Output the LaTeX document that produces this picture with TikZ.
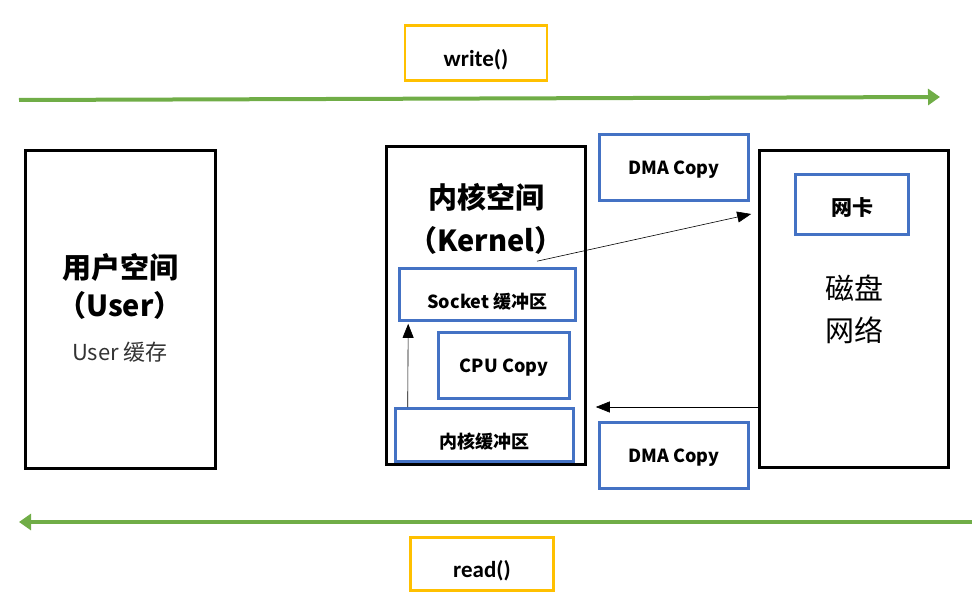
\documentclass[tikz,border=0pt]{standalone}
\usepackage{fontspec}
\setmainfont{Noto Sans CJK SC}
\newfontfamily\callfont{Carlito}
\usetikzlibrary{arrows.meta}

\definecolor{callorange}{HTML}{FFC000}
\definecolor{flowgreen}{HTML}{70AD47}
\definecolor{bufblue}{HTML}{4472C4}

\begin{document}
\begin{tikzpicture}[x=1pt,y=-1pt,
    space/.style={draw=black,line width=2.6pt,inner sep=0pt},
    buffer/.style={draw=bufblue,line width=2.6pt,inner sep=0pt,font=\fontsize{18}{21}\selectfont\bfseries},
    call/.style={draw=callorange,line width=2.6pt,inner sep=0pt,font=\callfont\fontsize{23}{26}\selectfont\bfseries},
    drop/.style={text height=#1,text depth=0pt},
    flow/.style={draw=flowgreen,line width=4pt,-{Triangle[length=12pt,width=16pt]}},
    copy/.style={draw=black,line width=0.6pt,-{Triangle[length=14pt,width=11pt]}}]

  \useasboundingbox (0,0) rectangle (972,610);

  % system calls
  \node[call, drop=27pt, minimum width=142pt, minimum height=55pt] (write) at (476,53)  {write()};
  \node[call, drop=27pt, minimum width=143pt, minimum height=53pt] (read)  at (482,564) {read()};

  \coordinate (w0) at (19,100);
  \coordinate (w1) at (940,97);
  \coordinate (r0) at (972,522);
  \coordinate (r1) at (19,522);
  \draw[flow] (w0) -- (w1);
  \draw[flow] (r0) -- (r1);

  % user space
  \node[space, minimum width=190pt, minimum height=318pt] (user) at (120.5,309.5) {};
  \node[align=center, font=\fontsize{29}{38}\selectfont\bfseries] (utitle) at (120,286)
       {用户空间\\（User）};
  \node[font=\fontsize{22}{26}\selectfont, text=black!80] (ucache) at (120,352) {User 缓存};

  % kernel space
  \node[space, minimum width=199pt, minimum height=318pt] (kern) at (486,305.5) {};
  \node[align=center, font=\fontsize{29}{43}\selectfont\bfseries] (ktitle) at (486,218.5)
       {内核空间\\（Kernel）};
  \node[buffer, drop=27.5pt, minimum width=176pt, minimum height=52pt] (sock) at (487.5,294.5) {Socket 缓冲区};
  \node[buffer, drop=14pt,   minimum width=131pt, minimum height=66pt] (cpu)  at (504,365.5)   {CPU Copy};
  \node[buffer, drop=26.5pt, minimum width=178pt, minimum height=53pt] (kbuf) at (484.5,435)   {内核缓冲区};

  % disk / network
  \node[space, minimum width=189pt, minimum height=317pt] (disk) at (854,309) {};
  \node[buffer, drop=21pt, minimum width=113pt, minimum height=60pt, font=\fontsize{21}{24}\selectfont\bfseries] (nic) at (852,204.5) {网卡};
  \node[align=center, font=\fontsize{29}{42}\selectfont] (dtext) at (854,309) {磁盘\\网络};

  % dma copies
  \node[buffer, drop=14pt, minimum width=149pt, minimum height=66pt] (dmaup)   at (674,167.5) {DMA Copy};
  \node[buffer, drop=14pt, minimum width=149pt, minimum height=66pt] (dmadown) at (674,455.5) {DMA Copy};

  \draw[copy] ([xshift=13.5pt]kbuf.north west) -- ([xshift=10pt,yshift=-2pt]sock.south west);
  \draw[copy] ([xshift=49.5pt,yshift=6pt]sock.north) -- ([xshift=-7pt,yshift=95pt]disk.west);
  \draw[copy] ([yshift=-98pt]disk.west) -- ([xshift=9pt,yshift=-101.5pt]kern.east);
\end{tikzpicture}
\end{document}
